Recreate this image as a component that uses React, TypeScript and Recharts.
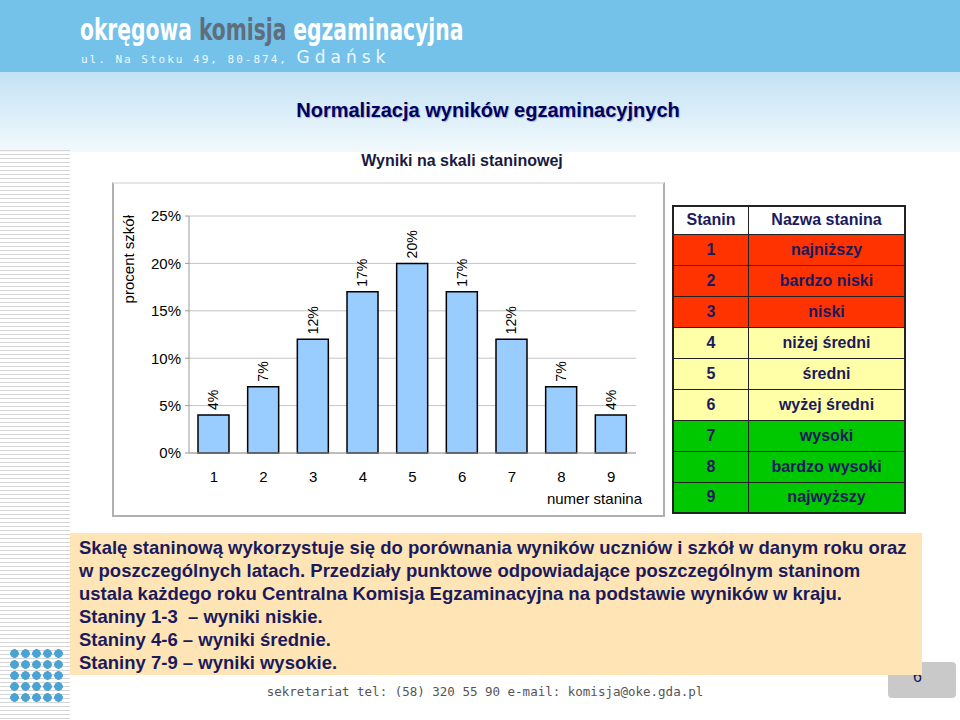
import React from 'react';
import { BarChart, Bar, XAxis, YAxis, CartesianGrid, LabelList, Label } from 'recharts';

const stanins = ['1', '2', '3', '4', '5', '6', '7', '8', '9'];
const schoolPercents = [4, 7, 12, 17, 20, 17, 12, 7, 4];
const yTicks = [0, 5, 10, 15, 20, 25];
const stanineNames = [
  'najniższy',
  'bardzo niski',
  'niski',
  'niżej średni',
  'średni',
  'wyżej średni',
  'wysoki',
  'bardzo wysoki',
  'najwyższy',
];
const descLines = [
  'Skalę staninową wykorzystuje się do porównania wyników uczniów i szkół w danym roku oraz',
  'w poszczególnych latach. Przedziały punktowe odpowiadające poszczególnym staninom',
  'ustala każdego roku Centralna Komisja Egzaminacyjna na podstawie wyników w kraju.',
  'Staniny 1-3  – wyniki niskie.',
  'Staniny 4-6 – wyniki średnie.',
  'Staniny 7-9 – wyniki wysokie.',
];

const data = stanins.map((s, i) => ({ stanin: s, percent: schoolPercents[i] }));

const FONT = '"Liberation Sans", Arial, sans-serif';
const NAVY = '#1a1a5c';

// row colour by stanine group (low / middle / high)
const rowColor = (i: number) => (i < 3 ? '#ff3300' : i < 6 ? '#ffffa8' : '#00c800');

const ValueLabel = (props: any) => {
  const { x, y, width, value } = props;
  const cx = x + width / 2;
  const ty = y - 5;
  return (
    <text
      x={cx}
      y={ty}
      transform={`rotate(-90, ${cx}, ${ty})`}
      textAnchor="start"
      dominantBaseline="central"
      fontSize={14}
      fontFamily={FONT}
      fill="#000"
    >
      {value}%
    </text>
  );
};

function StaninChart() {
  return (
    <BarChart
      width={547}
      height={329}
      data={data}
      margin={{ top: 32, right: 25, left: 0, bottom: 0 }}
      barSize={31}
    >
      <CartesianGrid vertical={false} stroke="#c4c4c4" />
      <XAxis
        dataKey="stanin"
        height={60}
        tickLine={false}
        tickSize={0}
        tickMargin={18}
        axisLine={{ stroke: '#9a9a9a' }}
        tick={{ fontSize: 15, fill: '#000', fontFamily: FONT }}
      >
        <Label
          content={(p: any) => (
            <text
              x={p.viewBox.x + p.viewBox.width + 6}
              y={p.viewBox.y + 45}
              textAnchor="end"
              dominantBaseline="central"
              fontSize={15}
              fontFamily={FONT}
              fill="#000"
            >
              numer stanina
            </text>
          )}
        />
      </XAxis>
      <YAxis
        width={75}
        domain={[0, 25]}
        ticks={yTicks}
        interval={0}
        tickSize={4}
        tickMargin={4}
        tickLine={{ stroke: '#9a9a9a' }}
        axisLine={{ stroke: '#9a9a9a' }}
        tickFormatter={(v: number) => `${v}%`}
        tick={{ fontSize: 15, fill: '#000', fontFamily: FONT }}
      >
        <Label
          content={(p: any) => (
            <text
              x={14}
              y={p.viewBox.y - 1}
              transform={`rotate(-90, 14, ${p.viewBox.y - 1})`}
              textAnchor="end"
              dominantBaseline="central"
              fontSize={15}
              fontFamily={FONT}
              fill="#000"
            >
              procent szkół
            </text>
          )}
        />
      </YAxis>
      <Bar dataKey="percent" fill="#99ccff" stroke="#000" strokeWidth={1.5} isAnimationActive={false}>
        <LabelList dataKey="percent" content={ValueLabel} />
      </Bar>
    </BarChart>
  );
}

export default function App() {
  return (
    <div
      style={{
        position: 'absolute',
        left: 0,
        top: 0,
        width: 960,
        height: 720,
        overflow: 'hidden',
        background: '#fff',
        fontFamily: FONT,
      }}
    >
      {/* header band */}
      <div style={{ position: 'absolute', left: 0, top: 0, width: 960, height: 72, background: '#74c1ea' }} />
      <div
        style={{
          position: 'absolute',
          left: 0,
          top: 72,
          width: 960,
          height: 80,
          background: 'linear-gradient(to bottom, #c4e2f3 0%, #d8edf8 45%, #f2f9fd 100%)',
        }}
      />
      <div
        style={{
          position: 'absolute',
          left: 80,
          top: 13,
          whiteSpace: 'nowrap',
          fontFamily: '"DejaVu Sans Condensed", "DejaVu Sans", sans-serif',
          fontWeight: 'bold',
          fontSize: 30,
          lineHeight: '34px',
          transform: 'scaleX(0.75)',
          transformOrigin: 'left top',
          color: '#fff',
        }}
      >
        okręgowa <span style={{ color: '#5f6e7b' }}>komisja</span> egzaminacyjna
      </div>
      <div
        style={{
          position: 'absolute',
          left: 81,
          top: 49,
          whiteSpace: 'nowrap',
          fontFamily: '"DejaVu Sans Mono", monospace',
          fontSize: 11,
          lineHeight: '16px',
          letterSpacing: 2,
          color: '#eef7fc',
        }}
      >
        ul. Na Stoku 49, 80-874,{' '}
        <span style={{ fontFamily: '"DejaVu Sans", sans-serif', fontSize: 17, letterSpacing: 5 }}>Gdańsk</span>
      </div>

      {/* left decoration lines */}
      <div
        style={{
          position: 'absolute',
          left: 0,
          top: 150,
          width: 70,
          height: 570,
          background: 'repeating-linear-gradient(to bottom, #d6d6d6 0px, #d6d6d6 1px, transparent 1px, transparent 4px)',
        }}
      />

      {/* titles */}
      <div
        style={{
          position: 'absolute',
          left: 0,
          width: 976,
          top: 99,
          textAlign: 'center',
          fontSize: 20,
          fontWeight: 'bold',
          color: '#000066',
          textShadow: '1px 1px 1px rgba(0,0,0,0.25)',
        }}
      >
        Normalizacja wyników egzaminacyjnych
      </div>
      <div
        style={{
          position: 'absolute',
          left: 0,
          width: 924,
          top: 152,
          textAlign: 'center',
          fontSize: 16,
          fontWeight: 'bold',
          color: '#1a1a40',
        }}
      >
        Wyniki na skali staninowej
      </div>

      {/* chart frame */}
      <div
        style={{
          position: 'absolute',
          left: 112,
          top: 182,
          width: 549,
          height: 331,
          border: '2px solid #b0b0b0',
          borderTopColor: '#e6e6e6',
          background: '#fff',
        }}
      >
        <StaninChart />
      </div>

      {/* stanine table */}
      <table
        style={{
          position: 'absolute',
          left: 672,
          top: 205,
          width: 234,
          borderCollapse: 'collapse',
          border: '2px solid #222',
          fontSize: 16,
          fontWeight: 'bold',
          color: NAVY,
          textAlign: 'center',
        }}
      >
        <tbody>
          <tr style={{ height: 28, background: '#fff' }}>
            <td style={{ width: 74, border: '1px solid #222', padding: 0 }}>Stanin</td>
            <td style={{ border: '1px solid #222', padding: 0 }}>Nazwa stanina</td>
          </tr>
          {stanineNames.map((name, i) => (
            <tr key={name} style={{ height: 31, background: rowColor(i) }}>
              <td style={{ border: '1px solid #222', padding: 0 }}>{stanins[i]}</td>
              <td style={{ border: '1px solid #222', padding: 0 }}>{name}</td>
            </tr>
          ))}
        </tbody>
      </table>

      {/* page number box */}
      <div
        style={{
          position: 'absolute',
          left: 888,
          top: 662,
          width: 68,
          height: 36,
          background: '#c9c9c9',
          borderRadius: 4,
        }}
      >
        <div style={{ position: 'absolute', left: 25, top: 6, fontSize: 16, color: NAVY }}>6</div>
      </div>

      {/* description box */}
      <div
        style={{
          position: 'absolute',
          left: 70,
          top: 533,
          width: 843,
          height: 139,
          padding: '3px 0 0 9px',
          background: '#ffe5b5',
          color: NAVY,
          fontSize: 18.5,
          fontWeight: 'bold',
          lineHeight: '23px',
        }}
      >
        {descLines.map((line) => (
          <div key={line} style={{ whiteSpace: 'pre' }}>
            {line}
          </div>
        ))}
      </div>

      {/* blue dots logo */}
      <div
        style={{
          position: 'absolute',
          left: 9,
          top: 648,
          width: 56,
          height: 56,
          backgroundImage: 'radial-gradient(circle, #4aa3d4 0px, #4aa3d4 4px, transparent 4.6px)',
          backgroundSize: '11px 11px',
        }}
      />

      {/* footer */}
      <div
        style={{
          position: 'absolute',
          left: 0,
          width: 970,
          top: 684,
          textAlign: 'center',
          fontFamily: '"DejaVu Sans Mono", monospace',
          fontSize: 12.5,
          color: '#555',
        }}
      >
        sekretariat tel: (58) 320 55 90 e-mail: komisja@oke.gda.pl
      </div>
    </div>
  );
}
